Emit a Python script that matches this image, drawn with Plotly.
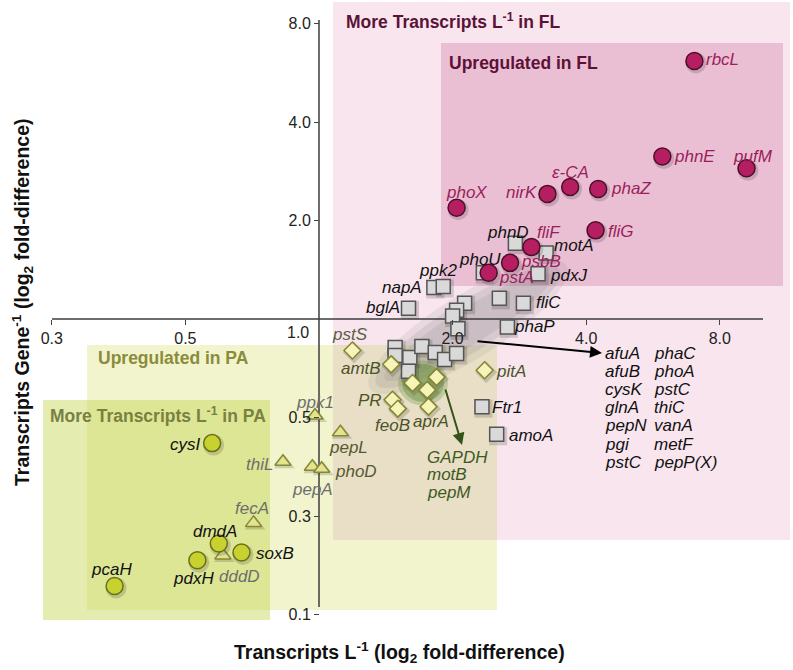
import math
import plotly.graph_objects as go

# ---------------- data (log2 fold-difference: x = transcripts L^-1, y = transcripts gene^-1) ----------------
fl_genes = ["rbcL", "phnE", "pufM", "ε-CA", "phaZ", "nirK", "phoX", "fliG", "fliF", "psbB", "pstA"]
fl_x = [2.81, 2.57, 3.20, 1.88, 2.09, 1.71, 1.03, 2.07, 1.59, 1.43, 1.27]
fl_y = [2.62, 1.65, 1.53, 1.34, 1.32, 1.27, 1.13, 0.90, 0.73, 0.57, 0.47]

sq_genes = ["phnD", "motA", "pdxJ", "phoU", "fliC", "", "phaP", "napA", "ppk2", "bglA",
            "", "", "", "", "", "", "", "", "", "", "", "", "Ftr1", "amoA"]
sq_x = [1.47, 1.70, 1.64, 1.23, 1.53, 1.35, 1.41, 0.86, 0.93, 0.67,
        1.09, 1.03, 1.00, 1.04, 0.57, 0.57, 0.68, 0.67, 0.77, 0.87, 0.94, 1.03, 1.22, 1.33]
sq_y = [0.77, 0.67, 0.46, 0.47, 0.16, 0.21, -0.08, 0.32, 0.33, 0.11,
        0.16, 0.09, 0.03, -0.10, -0.29, -0.37, -0.39, -0.53, -0.28, -0.34, -0.41, -0.35, -0.89, -1.17]

dia_genes = ["pstS", "amtB", "pitA", "", "", "", "PR", "feoB", "aprA"]
dia_x = [0.25, 0.54, 1.24, 0.70, 0.88, 0.81, 0.55, 0.59, 0.82]
dia_y = [-0.32, -0.46, -0.52, -0.65, -0.59, -0.72, -0.82, -0.91, -0.89]

tri_genes = ["ppk1", "pepL", "thiL", "pepA", "phoD", "fecA", "dddD"]
tri_x = [-0.03, 0.16, -0.27, -0.05, 0.02, -0.49, -0.72]
tri_y = [-0.98, -1.15, -1.45, -1.50, -1.52, -2.07, -2.40]

pa_genes = ["cysI", "dmdA", "soxB", "pdxH", "pcaH"]
pa_x = [-0.80, -0.75, -0.58, -0.91, -1.53]
pa_y = [-1.26, -2.28, -2.37, -2.45, -2.71]

x_tickvals = [-2, -1, 1, 2, 3]
x_ticktext = ["0.3", "0.5", "2.0", "4.0", "8.0"]
y_tickvals = [-3, -2, -1, 1, 2, 3]
y_ticktext = ["0.1", "0.3", "0.5", "2.0", "4.0", "8.0"]

list_col1 = ["afuA", "afuB", "cysK", "glnA", "pepN", "pgi", "pstC"]
list_col2 = ["phaC", "phoA", "pstC", "thiC", "vanA", "metF", "pepP(X)"]
green_list = ["GAPDH", "motB", "pepM"]

# ---------------- layout helpers (screen pixel -> axis units) ----------------
W, H = 793, 670
X0PX, XSCALE = 319, 133.6
Y0PX, YSCALE = 319, 98.5


def U(px):
    return (px - X0PX) / XSCALE


def V(py):
    return (Y0PX - py) / YSCALE


FONT = "Arial, 'Liberation Sans', sans-serif"
LBL = 17

# label offsets (dx, dy) in screen pixels relative to the marker
label_off = {
    "rbcL": (28, -1), "phnE": (32, 0), "pufM": (6, -12), "ε-CA": (0, -15), "phaZ": (33, 0),
    "nirK": (-26, -1), "phoX": (10, -15), "fliG": (25, 1), "fliF": (18, -15), "psbB": (31, -1),
    "pstA": (28, 5), "phnD": (-7, -11), "motA": (28, -8), "pdxJ": (30, 2), "phoU": (-3, -13),
    "fliC": (25, -1), "phaP": (27, 0), "napA": (-32, 0), "ppk2": (-5, -16), "bglA": (-26, -1),
    "Ftr1": (25, 1), "amoA": (34, 1), "pstS": (-2, -16), "amtB": (-30, 4), "pitA": (26, 1),
    "PR": (-22, 1), "feoB": (-5, 17), "aprA": (2, 15), "ppk1": (0, -13), "pepL": (8, 15),
    "thiL": (-23, 3), "pepA": (0, 23), "phoD": (34, 3), "fecA": (-2, -14), "dddD": (17, 21),
    "cysI": (-27, 1), "dmdA": (-4, -12), "soxB": (33, 1), "pdxH": (-4, 18), "pcaH": (-3, -16),
}

fig = go.Figure()

# ---------------- background regions ----------------
shapes = []


def rect(x0, x1, y0, y1, color):
    shapes.append(dict(type="rect", xref="x", yref="y", x0=U(x0), x1=U(x1), y0=V(y1), y1=V(y0),
                       fillcolor=color, line=dict(width=0), layer="below"))


rect(333, 790, 2, 540, "#F8E5EE")          # More transcripts in FL
rect(441, 783, 43, 286, "#EABFD4")         # Upregulated in FL
rect(87, 497, 345, 610, "#F2F4CD")         # Upregulated in PA
rect(333, 497, 345, 540, "#E9DFC6")        # overlap
rect(43, 270, 400, 620, "rgba(196,212,80,0.45)")  # More transcripts in PA


def ellipse_path(cx, cy, a, b, ang_deg, n=60):
    th = math.radians(ang_deg)
    pts = []
    for i in range(n):
        t = 2 * math.pi * i / n
        px = cx + a * math.cos(t) * math.cos(th) + b * math.sin(t) * math.sin(th)
        py = cy - a * math.cos(t) * math.sin(th) + b * math.sin(t) * math.cos(th)
        pts.append((U(px), V(py)))
    return "M " + " L ".join(f"{x:.4f},{y:.4f}" for x, y in pts) + " Z"


for a, b, op in [(116, 32, 0.10), (108, 25, 0.14), (98, 18, 0.12)]:
    shapes.append(dict(type="path", xref="x", yref="y", path=ellipse_path(468, 327, a, b, 32),
                       fillcolor=f"rgba(110,110,110,{op})", line=dict(width=0), layer="below"))

for r, op in [(25, 0.25), (21, 0.35)]:
    shapes.append(dict(type="circle", xref="x", yref="y", x0=U(423 - r), x1=U(423 + r),
                       y0=V(383 + r * 0.9), y1=V(383 - r * 0.9),
                       fillcolor=f"rgba(80,130,40,{op})", line=dict(width=0), layer="below"))

# axis lines
shapes.append(dict(type="line", xref="x", yref="y", x0=U(52), x1=U(763), y0=0, y1=0,
                   line=dict(color="#3C3C3C", width=1.5), layer="below"))
shapes.append(dict(type="line", xref="x", yref="y", x0=0, x1=0, y0=V(20), y1=V(607),
                   line=dict(color="#3C3C3C", width=1.5), layer="below"))

# ---------------- markers ----------------
SHX, SHY = 1.5 / XSCALE, -2.0 / YSCALE


def add_group(xs, ys, symbol, size, fill, edge):
    fig.add_trace(go.Scatter(x=[x + SHX for x in xs], y=[y + SHY for y in ys], mode="markers",
                             marker=dict(symbol=symbol, size=size + 4, color="rgba(40,40,40,0.18)",
                                         line=dict(width=0)),
                             hoverinfo="skip", showlegend=False))
    fig.add_trace(go.Scatter(x=xs, y=ys, mode="markers",
                             marker=dict(symbol=symbol, size=size, color=fill,
                                         line=dict(color=edge, width=1.5)),
                             hoverinfo="skip", showlegend=False))


add_group(sq_x, sq_y, "square", 14, "#D9D9D9", "#555555")
add_group(dia_x, dia_y, "diamond", 13, "#F6F4B8", "#85852E")
add_group(tri_x, tri_y, "triangle-up", 14, "#E3E48C", "#87873A")
add_group(pa_x, pa_y, "circle", 17, "#C8D22E", "#6A7020")
add_group(fl_x, fl_y, "circle", 17, "#B51F62", "#4E0E2A")

# ---------------- labels ----------------
annotations = []


def add_labels(names, xs, ys, colors):
    for i, (n, x, y) in enumerate(zip(names, xs, ys)):
        if not n:
            continue
        dx, dy = label_off[n]
        c = colors[i] if isinstance(colors, list) else colors
        annotations.append(dict(x=x, y=y, xref="x", yref="y", text=f"<i>{n}</i>", showarrow=False,
                                xshift=dx, yshift=-dy, xanchor="center", yanchor="middle",
                                font=dict(family=FONT, size=LBL, color=c)))


add_labels(fl_genes, fl_x, fl_y, "#9A1E5B")
add_labels(sq_genes, sq_x, sq_y, "#111111")
add_labels(dia_genes, dia_x, dia_y, ["#5A6040", "#4B5328", "#4B5328", "", "", "", "#4B5328", "#4B5328", "#4B5328"])
add_labels(tri_genes, tri_x, tri_y, ["#6E6E6E", "#555A30", "#6E6E6E", "#6E6E6E", "#555A30", "#6E6E6E", "#6E6E6E"])
add_labels(pa_genes, pa_x, pa_y, "#111111")

# gene list for grey cluster
for i, (a, b) in enumerate(zip(list_col1, list_col2)):
    yy = V(353 + 18.2 * i)
    annotations.append(dict(x=U(603), y=yy, xref="x", yref="y", text=f"<i>{a}</i>", showarrow=False,
                            xanchor="left", yanchor="middle", font=dict(family=FONT, size=LBL, color="#111111")))
    annotations.append(dict(x=U(652), y=yy, xref="x", yref="y", text=f"<i>{b}</i>", showarrow=False,
                            xanchor="left", yanchor="middle", font=dict(family=FONT, size=LBL, color="#111111")))

for i, g in enumerate(green_list):
    annotations.append(dict(x=U(425), y=V(457 + 17.5 * i), xref="x", yref="y", text=f"<i>{g}</i>",
                            showarrow=False, xanchor="left", yanchor="middle",
                            font=dict(family=FONT, size=LBL, color="#3F5A1E")))

# arrows
annotations.append(dict(x=U(602), y=V(353), ax=U(476), ay=V(341), xref="x", yref="y", axref="x", ayref="y",
                        text="", showarrow=True, arrowhead=2, arrowsize=1.2, arrowwidth=2, arrowcolor="#000000"))
annotations.append(dict(x=U(462), y=V(445), ax=U(445), ay=V(388), xref="x", yref="y", axref="x", ayref="y",
                        text="", showarrow=True, arrowhead=2, arrowsize=1.2, arrowwidth=2, arrowcolor="#355218"))


# region titles
def region_title(text, px, py, color):
    annotations.append(dict(x=U(px), y=V(py), xref="x", yref="y", text=f"<b>{text}</b>", showarrow=False,
                            xanchor="left", yanchor="middle", font=dict(family=FONT, size=17.5, color=color)))


region_title("More Transcripts L<sup>-1</sup> in FL", 344, 21, "#5C1237")
region_title("Upregulated in FL", 447, 63, "#5C1237")
region_title("Upregulated in PA", 96, 358, "#8A8C3C")
region_title("More Transcripts L<sup>-1</sup> in PA", 48, 415, "#7A8040")

# "1.0" shared origin label
annotations.append(dict(x=0, y=0, xref="x", yref="y", text="1.0", showarrow=False, xanchor="right",
                        yanchor="middle", xshift=-8, yshift=-13, font=dict(family=FONT, size=16, color="#222222")))

# axis titles
annotations.append(dict(x=399 / W, y=1 - 652 / H, xref="paper", yref="paper",
                        text="<b>Transcripts L<sup>-1</sup> (log<sub>2</sub> fold-difference)</b>",
                        showarrow=False, xanchor="center", yanchor="middle",
                        font=dict(family=FONT, size=19.5, color="#111111")))
annotations.append(dict(x=22 / W, y=1 - 302 / H, xref="paper", yref="paper", textangle=-90,
                        text="<b>Transcripts Gene<sup>-1</sup> (log<sub>2</sub> fold-difference)</b>",
                        showarrow=False, xanchor="center", yanchor="middle",
                        font=dict(family=FONT, size=19.5, color="#111111")))

xr = [U(0), U(W)]
yr = [V(H), V(0)]

fig.update_layout(
    width=W, height=H, margin=dict(l=0, r=0, t=0, b=0, pad=0),
    paper_bgcolor="white", plot_bgcolor="white",
    shapes=shapes, annotations=annotations, showlegend=False,
    xaxis=dict(range=xr, anchor="free", position=(0 - yr[0]) / (yr[1] - yr[0]), side="bottom",
               showgrid=False, zeroline=False, showline=False,
               tickmode="array", tickvals=x_tickvals, ticktext=x_ticktext,
               ticks="outside", ticklen=5, tickwidth=1.2, tickcolor="#444444",
               tickfont=dict(family=FONT, size=16, color="#222222")),
    yaxis=dict(range=yr, anchor="free", position=(0 - xr[0]) / (xr[1] - xr[0]), side="left",
               showgrid=False, zeroline=False, showline=False,
               tickmode="array", tickvals=y_tickvals, ticktext=y_ticktext,
               ticks="outside", ticklen=5, tickwidth=1.2, tickcolor="#444444",
               tickfont=dict(family=FONT, size=16, color="#222222")),
)

fig.write_html("out.html", config={"displayModeBar": False},
               post_script="document.body.style.margin='0';document.body.style.overflow='hidden';")
